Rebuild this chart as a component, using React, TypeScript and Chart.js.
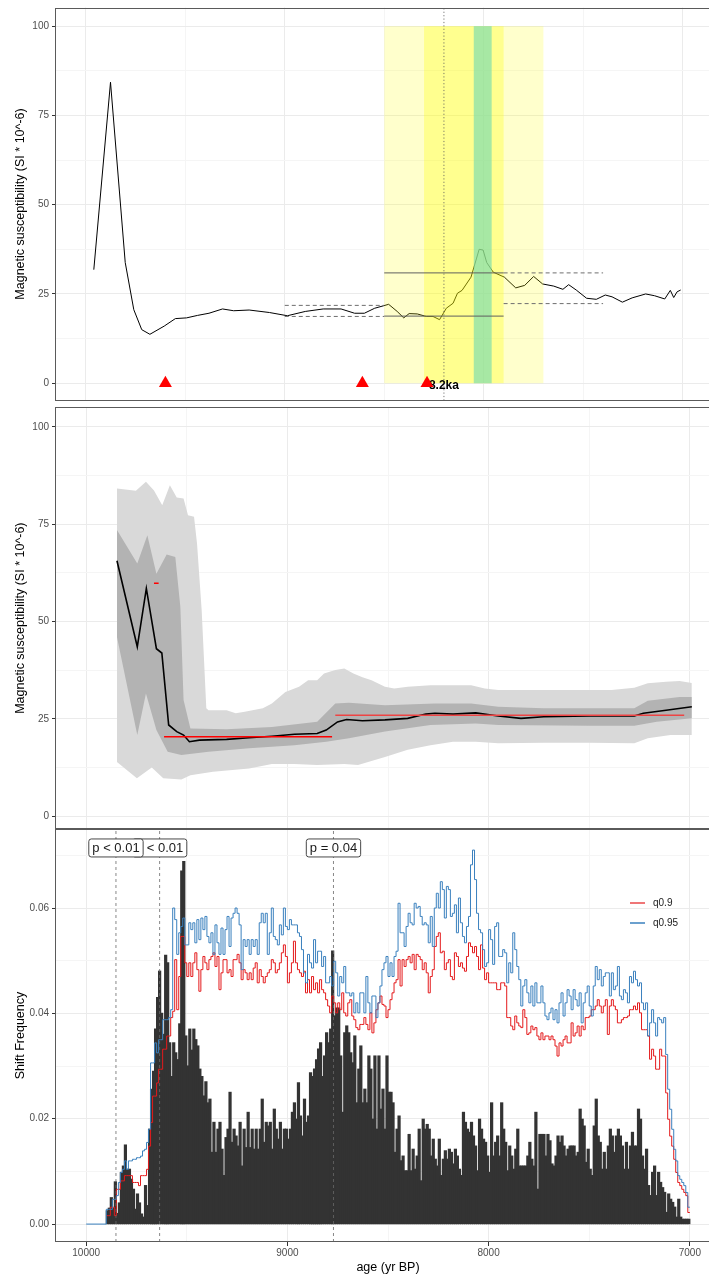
import React, { useEffect, useRef } from "react";
import { Chart, registerables } from "chart.js";

Chart.register(...registerables);

const FONT = "'Liberation Sans', Arial, Helvetica, sans-serif";

// ---------- shared age axis ----------
const AGE_MIN = 6850;
const AGE_MAX = 10150;
const AGE_TICKS = [10000, 9500, 9000, 8500, 8000, 7500, 7000];
const AGE_LABEL_TICKS = [10000, 9000, 8000, 7000];

// ---------- panel 1 : magnetic susceptibility record ----------
const MS_AGE = [9960, 9876, 9802, 9759, 9719, 9678, 9606, 9550, 9494, 9438, 9381, 9313, 9257, 9179, 9077, 8987, 8897, 8807, 8717, 8649, 8600, 8548, 8503, 8478, 8435, 8402, 8375, 8334, 8289, 8255, 8222, 8188, 8154, 8132, 8109, 8064, 8037, 8023, 8003, 7985, 7952, 7896, 7839, 7794, 7749, 7704, 7648, 7602, 7573, 7535, 7483, 7434, 7389, 7355, 7303, 7254, 7186, 7141, 7090, 7062, 7045, 7028, 7010];
const MS_VALUE = [31.8, 84.3, 33.8, 20.6, 15, 13.7, 16, 18.1, 18.3, 19, 19.6, 20.8, 20.3, 20.5, 19.8, 18.9, 20.1, 20.8, 20.8, 19.6, 19.6, 21, 21.7, 22.1, 20.1, 18.3, 19.5, 19.4, 18.7, 18.7, 17.8, 21, 22.4, 25.2, 26, 29.7, 34.8, 37.5, 37.3, 33.8, 31.1, 29.7, 26.7, 27.4, 29.9, 27.8, 27.2, 26.3, 27.6, 26.1, 23.8, 23.5, 24.7, 24.2, 22.7, 23.9, 25, 24.5, 23.6, 26, 24, 25.6, 26.1];
const Y1_TICKS = [0, 12.5, 25, 37.5, 50, 62.5, 75, 87.5, 100];
const Y1_LABEL_TICKS = [0, 25, 50, 75, 100];
const BAND_WIDE = [8500, 7700];
const BAND_CORE = [8300, 7900];
const BAND_PEAK = [8050, 7960];
const BAND_VALUE = [0, 100];
const EVENT_AGE = 8200;
const EVENT_LABEL = "8.2ka";
const TRIANGLE_AGE = [9600, 8610, 8285];
const TRIANGLE_VALUE = [0, 0, 0];
const MEAN_FROM = [9000, 9000, 8500, 8500, 7900, 7900];
const MEAN_TO = [8500, 8500, 7900, 7900, 7400, 7400];
const MEAN_VALUE = [21.8, 18.7, 30.9, 18.8, 30.9, 22.3];
const MEAN_KIND = ["before", "before", "event", "event", "after", "after"];

// ---------- panel 2 : modelled record ----------
const OUTER_UPPER = [[9847, 84.2], [9753, 83.6], [9703, 85.9], [9663, 83.7], [9622, 79.9], [9584, 85], [9550, 81.9], [9516, 81.6], [9494, 77.3], [9464, 76.9], [9449, 70], [9426, 52.9], [9403, 27.7], [9392, 27.2], [9302, 27.2], [9257, 26.4], [9212, 26.8], [9122, 27.7], [9077, 28.9], [9010, 31.9], [8942, 33.2], [8897, 34.9], [8852, 34.9], [8818, 36.6], [8762, 37.5], [8717, 37.9], [8672, 36.6], [8627, 35.7], [8582, 34.9], [8515, 33.2], [8469, 32.8], [8402, 33.2], [8289, 33.6], [8177, 33.6], [8087, 33.6], [8019, 32.8], [7952, 32.4], [7839, 32.4], [7726, 32.4], [7614, 32.4], [7501, 32.4], [7389, 32.4], [7276, 33], [7209, 34.1], [7118, 34.5], [7051, 34.7], [6990, 34.2]];
const OUTER_LOWER = [[9847, 13.9], [9748, 9.7], [9674, 12.5], [9617, 9.7], [9527, 9.4], [9482, 10.5], [9370, 11.4], [9190, 12.2], [9077, 13.4], [8965, 13.4], [8852, 13.1], [8717, 13.4], [8649, 13.1], [8515, 15.2], [8402, 17], [8289, 18.2], [8177, 19.1], [8064, 19.1], [7952, 18.7], [7726, 18.8], [7501, 18.8], [7276, 18.7], [7209, 20], [7096, 20.8], [6990, 20.8]];
const INNER_UPPER = [[9847, 73.5], [9746, 64.9], [9696, 72.2], [9651, 62.3], [9600, 67.2], [9557, 66.6], [9532, 53.7], [9516, 29.8], [9482, 22.5], [9302, 22.3], [9077, 22.9], [8852, 24.2], [8762, 28.9], [8694, 29.1], [8515, 28.5], [8267, 28.9], [8087, 28.9], [7952, 28.1], [7726, 27.7], [7276, 27.7], [7209, 29.6], [7051, 30.6], [6990, 30.6]];
const INNER_LOWER = [[9847, 46], [9746, 20.8], [9703, 31.5], [9651, 22.1], [9595, 16.5], [9527, 15.7], [9392, 16.5], [9190, 17.4], [8965, 18.2], [8807, 19.1], [8694, 20], [8515, 21.7], [8289, 23.4], [8064, 23.8], [7952, 23.4], [7501, 23.2], [7276, 23.2], [7164, 24.2], [6990, 25.1]];
const MEDIAN = [[9847, 65.6], [9746, 43.5], [9701, 58.5], [9651, 43], [9624, 41.9], [9590, 23.4], [9550, 21.7], [9516, 20.8], [9487, 19.1], [9437, 19.5], [9302, 19.7], [9190, 20.1], [9077, 20.5], [8965, 21], [8852, 21.2], [8807, 22.1], [8751, 24.2], [8706, 24.8], [8627, 24.5], [8515, 24.7], [8402, 25.1], [8312, 26.2], [8267, 26.4], [8177, 26.2], [8064, 26.5], [7952, 25.7], [7839, 25.1], [7726, 25.5], [7501, 25.7], [7276, 25.7], [7231, 26.4], [7118, 27.2], [6990, 28.1]];
const REGIME_FROM = [9613, 8762, 9663];
const REGIME_TO = [8778, 7028, 9640];
const REGIME_VALUE = [20.4, 25.9, 59.8];

// ---------- panel 3 : shift frequency ----------
const BIN_START = 9900;
const BIN_WIDTH = 10;
const SHIFT_FREQ = [
  0.0025, 0.003, 0.005, 0.003, 0.008, 0.002, 0.004, 0.0098, 0.011, 0.015,
  0.0104, 0.0104, 0.0085, 0.0066, 0.0028, 0.0057, 0.004, 0.0019, 0.0013, 0.0073,
  0.0035, 0.018, 0.0256, 0.029, 0.037, 0.043, 0.048, 0.040, 0.036, 0.051,
  0.0496, 0.0344, 0.028, 0.0344, 0.0325, 0.0312, 0.038, 0.067, 0.0688, 0.0357,
  0.030, 0.037, 0.033, 0.037, 0.035, 0.0338, 0.0294, 0.028, 0.0243, 0.027,
  0.023, 0.0237, 0.0136, 0.0193, 0.0136, 0.018, 0.0193, 0.0142, 0.0092, 0.0164,
  0.018, 0.025, 0.0155, 0.018, 0.0167, 0.0148, 0.0193, 0.011, 0.018, 0.0145,
  0.0212, 0.0145, 0.018, 0.0142, 0.018, 0.0142, 0.018, 0.0237, 0.0155, 0.0193,
  0.0186, 0.0193, 0.0142, 0.0218, 0.018, 0.0161, 0.0193, 0.0142, 0.018, 0.018,
  0.0161, 0.018, 0.0212, 0.023, 0.0199, 0.0268, 0.0205, 0.0167, 0.0237, 0.0193,
  0.0205, 0.0287, 0.028, 0.0294, 0.0312, 0.0332, 0.0344, 0.028, 0.0319, 0.0363,
  0.0344, 0.037, 0.0518, 0.0395, 0.041, 0.041, 0.0319, 0.0212, 0.0363, 0.0376,
  0.0363, 0.0325, 0.0306, 0.0357, 0.023, 0.0294, 0.0338, 0.023, 0.0256, 0.023,
  0.0319, 0.0294, 0.0199, 0.0319, 0.018, 0.0319, 0.0218, 0.0256, 0.018, 0.0319,
  0.025, 0.025, 0.023, 0.0136, 0.018, 0.0205,
  0.012, 0.0129, 0.0101, 0.0101, 0.017, 0.0101, 0.0142, 0.0104, 0.0129, 0.018,
  0.0082, 0.0199, 0.018, 0.0189, 0.018, 0.0129, 0.0161, 0.0123, 0.011, 0.0161,
  0.0092, 0.0123, 0.0139, 0.0123, 0.0142, 0.0136, 0.0114, 0.0142, 0.0129, 0.0104,
  0.0092, 0.0212, 0.0193, 0.018, 0.0174, 0.0193, 0.0167, 0.0148, 0.0101, 0.0199,
  0.018, 0.0161, 0.0155, 0.0129, 0.0098, 0.023, 0.0129, 0.0155, 0.0167, 0.0129,
  0.023, 0.018, 0.0155, 0.0101, 0.0148, 0.0129, 0.0104, 0.0142, 0.018, 0.011,
  0.011, 0.011, 0.011, 0.0129, 0.0155, 0.0123, 0.011, 0.0212, 0.0066, 0.017,
  0.017, 0.017, 0.0129, 0.017, 0.0158, 0.0114, 0.011, 0.0129, 0.0167, 0.0155,
  0.0167, 0.0148, 0.0129, 0.0142, 0.0148, 0.0148, 0.0148, 0.0129, 0.0136, 0.0218,
  0.0199, 0.0186, 0.0117, 0.0142, 0.0104, 0.0092, 0.0186, 0.0237, 0.0167, 0.0155,
  0.0104, 0.0136, 0.0104, 0.0148, 0.018, 0.0167, 0.0136, 0.0167, 0.018, 0.0167,
  0.0148, 0.0104, 0.0155, 0.0104, 0.0148, 0.0174, 0.0148, 0.0148, 0.0218, 0.0199,
  0.0129, 0.0104, 0.0142, 0.0073, 0.0054, 0.0098, 0.011, 0.0054, 0.0098, 0.0079,
  0.0069, 0.006, 0.0022, 0.0057, 0.0047, 0.0041, 0.0032, 0.0013, 0.0047, 0.0013,
  0.0009, 0.0009, 0.0009, 0.0009,
];
const Q90 = [
  0.0016, 0.0016, 0.0032, 0.0032, 0.0016, 0.0066, 0.0066, 0.0082, 0.0082, 0.0092,
  0.0092, 0.0092, 0.0092, 0.0079, 0.0079, 0.0079, 0.0073, 0.0092, 0.0092, 0.0092,
  0.0104, 0.0148, 0.0193, 0.0243, 0.0243, 0.0268, 0.0294, 0.0294, 0.0332, 0.0332,
  0.0357, 0.0357, 0.0392, 0.0404, 0.0502, 0.0407, 0.047, 0.0546, 0.0546, 0.0496,
  0.047, 0.0496, 0.047, 0.0496, 0.0515, 0.0483, 0.0442, 0.0483, 0.0508, 0.0496,
  0.0483, 0.0502, 0.0508, 0.0515, 0.0489, 0.0508, 0.0445, 0.0477, 0.0502, 0.0502,
  0.0477, 0.0483, 0.047, 0.0502, 0.0502, 0.0512, 0.0496, 0.0464, 0.0483, 0.0477,
  0.0464, 0.0477, 0.0464, 0.0486, 0.0496, 0.0458, 0.0483, 0.047, 0.0458, 0.047,
  0.0477, 0.0483, 0.0502, 0.0496, 0.0477, 0.0483, 0.0496, 0.0515, 0.053, 0.0508,
  0.0458, 0.0477, 0.0496, 0.0537, 0.0496, 0.0483, 0.0477, 0.047, 0.048, 0.0439,
  0.0464, 0.0439, 0.047, 0.0445, 0.0458, 0.0439, 0.0464, 0.0445, 0.0439, 0.0426,
  0.0414, 0.0401, 0.0433, 0.042, 0.0401, 0.042, 0.0407, 0.0439, 0.0401, 0.0395,
  0.042, 0.0426, 0.0395, 0.0388, 0.0373, 0.0369, 0.0379, 0.0379, 0.0392, 0.0379,
  0.0369, 0.0401, 0.0363, 0.0382, 0.0407, 0.042, 0.0433, 0.0417, 0.0414, 0.0392,
  0.0407, 0.0426, 0.0439, 0.0458, 0.0464, 0.0502,
  0.0452, 0.0502, 0.0489, 0.0502, 0.0508, 0.0496, 0.0512, 0.0483, 0.0512, 0.0508,
  0.0502, 0.0483, 0.0496, 0.0477, 0.0439, 0.047, 0.0483, 0.0527, 0.0546, 0.0553,
  0.0515, 0.0518, 0.0483, 0.0496, 0.0502, 0.047, 0.0464, 0.0515, 0.0508, 0.0489,
  0.0496, 0.0486, 0.048, 0.0508, 0.0534, 0.0527, 0.0515, 0.0527, 0.0508, 0.0483,
  0.053, 0.0486, 0.0464, 0.0477, 0.0458, 0.0458, 0.0458, 0.0458, 0.0445, 0.0445,
  0.0458, 0.0458, 0.0452, 0.0392, 0.0392, 0.0376, 0.0369, 0.0395, 0.0382, 0.0376,
  0.0373, 0.0407, 0.0392, 0.036, 0.0363, 0.0376, 0.0369, 0.0373, 0.0357, 0.035,
  0.0363, 0.035, 0.0357, 0.0357, 0.035, 0.0357, 0.035, 0.0338, 0.0319, 0.0344,
  0.0338, 0.035, 0.0357, 0.0344, 0.0344, 0.0382, 0.0357, 0.0363, 0.0376, 0.0357,
  0.0376, 0.0369, 0.0392, 0.0392, 0.0395, 0.0407, 0.0407, 0.0414, 0.0426, 0.0414,
  0.0401, 0.0414, 0.0426, 0.036, 0.0414, 0.0426, 0.0414, 0.0407, 0.0382, 0.0382,
  0.0388, 0.0392, 0.0392, 0.0395, 0.0407, 0.0407, 0.0414, 0.0407, 0.042, 0.0401,
  0.0369, 0.0369, 0.0369, 0.0357, 0.0313, 0.0332, 0.0319, 0.0294, 0.0294, 0.0332,
  0.0319, 0.0319, 0.0249, 0.0199, 0.0167, 0.0148, 0.0123, 0.0098, 0.0079, 0.0073,
  0.0066, 0.006, 0.0054, 0.0022,
];
const Q95_START = [10000, 0];
const Q95 = [
  0.0028, 0.0028, 0.0028, 0.0047, 0.0047, 0.0054, 0.0079, 0.0098, 0.0104, 0.012,
  0.0104, 0.012, 0.012, 0.0123, 0.0123, 0.0126, 0.0126, 0.0129, 0.0139, 0.0142,
  0.0155, 0.018, 0.0306, 0.0306, 0.0344, 0.0325, 0.035, 0.035, 0.0388, 0.0388,
  0.0388, 0.0392, 0.0407, 0.06, 0.0578, 0.0512, 0.0553, 0.0565, 0.0581, 0.053,
  0.053, 0.0572, 0.0559, 0.0572, 0.0534, 0.0578, 0.054, 0.0581, 0.0559, 0.0584,
  0.0546, 0.0534, 0.0553, 0.0512, 0.0568, 0.0534, 0.0512, 0.0562, 0.0512, 0.0559,
  0.0584, 0.0527, 0.0581, 0.059, 0.06, 0.059, 0.0568, 0.0483, 0.054, 0.0527,
  0.054, 0.0512, 0.054, 0.0527, 0.054, 0.0512, 0.0572, 0.059, 0.0572, 0.059,
  0.0512, 0.0553, 0.06, 0.0546, 0.054, 0.053, 0.0568, 0.0549, 0.06, 0.0565,
  0.0559, 0.0578, 0.0568, 0.0568, 0.0568, 0.0553, 0.0546, 0.0521, 0.0477, 0.0458,
  0.0512, 0.0496, 0.0486, 0.054, 0.0496, 0.0518, 0.0518, 0.0489, 0.0508, 0.0458,
  0.0458, 0.047, 0.0452, 0.0499, 0.0477, 0.0433, 0.047, 0.0458, 0.0489, 0.0439,
  0.0439, 0.0433, 0.0439, 0.0401, 0.042, 0.0401, 0.0439, 0.0439, 0.0401, 0.047,
  0.042, 0.0401, 0.0433, 0.0433, 0.0392, 0.042, 0.0452, 0.0483, 0.0496, 0.0508,
  0.047, 0.0496, 0.047, 0.0508, 0.0518, 0.0609,
  0.0553, 0.0553, 0.0527, 0.0565, 0.059, 0.0572, 0.0568, 0.0609, 0.06, 0.0603,
  0.0584, 0.0568, 0.0572, 0.0568, 0.0534, 0.0584, 0.0527, 0.06, 0.0628, 0.06,
  0.065, 0.0635, 0.0581, 0.0641, 0.0635, 0.0584, 0.059, 0.0606, 0.0553, 0.0619,
  0.0572, 0.0546, 0.0534, 0.0565, 0.0584, 0.0682, 0.071, 0.0654, 0.059, 0.0559,
  0.0553, 0.0521, 0.0489, 0.0496, 0.0559, 0.054, 0.0493, 0.0565, 0.0572, 0.0508,
  0.0508, 0.0521, 0.0515, 0.0458, 0.0496, 0.0477, 0.0553, 0.0521, 0.0489, 0.0464,
  0.0414, 0.0452, 0.0464, 0.0439, 0.042, 0.0452, 0.0414, 0.0458, 0.042, 0.042,
  0.0452, 0.042, 0.0395, 0.0388, 0.0401, 0.041, 0.0388, 0.0407, 0.0382, 0.042,
  0.0439, 0.0395, 0.042, 0.0445, 0.0433, 0.0407, 0.0445, 0.0426, 0.0414, 0.0439,
  0.0382, 0.042, 0.0439, 0.0452, 0.0414, 0.0395, 0.0452, 0.0489, 0.0464, 0.0483,
  0.0452, 0.047, 0.0477, 0.0477, 0.0433, 0.0477, 0.0445, 0.0452, 0.0489, 0.0433,
  0.0426, 0.0445, 0.0439, 0.042, 0.047, 0.0458, 0.048, 0.0464, 0.0452, 0.0458,
  0.042, 0.0407, 0.042, 0.0357, 0.0382, 0.0407, 0.0382, 0.0357, 0.0392, 0.0388,
  0.0382, 0.0392, 0.0322, 0.0256, 0.0218, 0.018, 0.0142, 0.012, 0.0092, 0.0085,
  0.0079, 0.0073, 0.006, 0.0032,
];
const CHANGE_AGE = [9852, 9635, 8771];
const CHANGE_LABEL = ["p < 0.01", "p < 0.01", "p = 0.04"];
const CHANGE_LABEL_VALUE = 0.0714;
const Y3_TICKS = [0, 0.01, 0.02, 0.03, 0.04, 0.05, 0.06, 0.07];
const Y3_LABEL_TICKS = [0, 0.02, 0.04, 0.06];
const LEGEND_LABELS = ["q0.9", "q0.95"];

const Y_TITLE = "Magnetic susceptibility (SI * 10^-6)";

// ---------- helpers ----------
const isIn = (list: number[], v: number) => list.some((t) => Math.abs(t - v) < 1e-9);

function xAxis(withLabels: boolean): any {
  const major = (v: number) => isIn(AGE_LABEL_TICKS, v);
  return {
    type: "linear",
    reverse: true,
    min: AGE_MIN,
    max: AGE_MAX,
    bounds: "data",
    offset: false,
    afterBuildTicks: (s: any) => {
      s.ticks = AGE_TICKS.map((v) => ({ value: v }));
    },
    afterFit: (s: any) => {
      s.height = withLabels ? 35 : 0;
      s.paddingLeft = 0;
      s.paddingRight = 0;
    },
    grid: {
      offset: false,
      color: (c: any) => (c.tick && major(c.tick.value) ? "#EBEBEB" : "#F5F5F5"),
      lineWidth: 1,
      drawTicks: withLabels,
      tickLength: 4,
      tickColor: (c: any) => (c.tick && major(c.tick.value) ? "#333333" : "rgba(0,0,0,0)"),
    },
    border: { display: false },
    ticks: {
      display: withLabels,
      autoSkip: false,
      maxRotation: 0,
      padding: 1,
      color: "#4D4D4D",
      font: { family: FONT, size: 10 },
      callback: (v: any) => (major(Number(v)) ? String(v) : ""),
    },
    title: withLabels
      ? {
          display: true,
          text: "age (yr BP)",
          color: "#000000",
          font: { family: FONT, size: 12.5 },
          padding: { top: 0, bottom: 1.5 },
        }
      : { display: false },
  };
}

function yAxis(min: number, max: number, ticks: number[], labelTicks: number[], fmt: (v: number) => string, title: string): any {
  const major = (v: number) => isIn(labelTicks, v);
  return {
    type: "linear",
    min,
    max,
    bounds: "data",
    afterBuildTicks: (s: any) => {
      s.ticks = ticks.map((v) => ({ value: v }));
    },
    afterFit: (s: any) => {
      s.width = 56;
      s.paddingTop = 0;
      s.paddingBottom = 0;
    },
    grid: {
      color: (c: any) => (c.tick && major(c.tick.value) ? "#EBEBEB" : "#F5F5F5"),
      lineWidth: 1,
      drawTicks: true,
      tickLength: 4,
      tickColor: (c: any) => (c.tick && major(c.tick.value) ? "#333333" : "rgba(0,0,0,0)"),
    },
    border: { display: false },
    ticks: {
      autoSkip: false,
      padding: 3,
      color: "#4D4D4D",
      font: { family: FONT, size: 10 },
      callback: (v: any) => (major(Number(v)) ? fmt(Number(v)) : ""),
    },
    title: {
      display: true,
      text: title,
      color: "#000000",
      font: { family: FONT, size: 12.5 },
      padding: { top: 13.5, bottom: 0 },
    },
  };
}

const framePlugin = {
  id: "frame",
  afterDraw(chart: any) {
    const { ctx, chartArea: a } = chart;
    ctx.save();
    ctx.strokeStyle = "#5A5A5A";
    ctx.lineWidth = 1;
    const x0 = Math.round(a.left) - 0.5;
    const y0 = Math.round(a.top) + 0.5;
    const x1 = Math.round(a.right) - 0.5;
    const y1 = Math.round(a.bottom) - 0.5;
    ctx.strokeRect(x0, y0, x1 - x0, y1 - y0);
    ctx.restore();
  },
};

const baseOptions = (padding: any) => ({
  responsive: false,
  maintainAspectRatio: false,
  animation: false,
  devicePixelRatio: 1,
  events: [],
  layout: { padding },
  plugins: { legend: { display: false }, tooltip: { enabled: false } },
});

const lineStyle = { pointRadius: 0, tension: 0, fill: false };

function panel1Config(): any {
  const meanStyles: any = {
    before: { borderColor: "#6E6E6E", borderDash: [4, 3], borderWidth: 1 },
    event: { borderColor: "#5E5E5E", borderDash: [], borderWidth: 1 },
    after: { borderColor: "#6E6E6E", borderDash: [4, 3], borderWidth: 1 },
  };
  const datasets: any[] = [
    {
      data: MS_AGE.map((a, i) => ({ x: a, y: MS_VALUE[i] })),
      borderColor: "#000000",
      borderWidth: 1,
      order: 10,
      ...lineStyle,
    },
  ];
  MEAN_FROM.forEach((f, i) => {
    datasets.push({
      data: [
        { x: f, y: MEAN_VALUE[i] },
        { x: MEAN_TO[i], y: MEAN_VALUE[i] },
      ],
      ...meanStyles[MEAN_KIND[i]],
      order: 5,
      ...lineStyle,
    });
  });
  datasets.push({
    data: [
      { x: EVENT_AGE, y: -4.84 },
      { x: EVENT_AGE, y: 105.23 },
    ],
    borderColor: "#555555",
    borderWidth: 0.8,
    borderDash: [1.2, 2.2],
    order: 5,
    ...lineStyle,
  });
  datasets.push({
    data: TRIANGLE_AGE.map((a, i) => ({ x: a, y: TRIANGLE_VALUE[i] })),
    showLine: false,
    pointStyle: "triangle",
    pointRadius: 7.5,
    pointBackgroundColor: "#FF0000",
    pointBorderWidth: 0,
    pointBorderColor: "#FF0000",
    order: 1,
  });

  const bandPlugin = {
    id: "bands",
    afterDatasetDraw(chart: any, args: any) {
      if (args.index !== 0) return;
      const { ctx, chartArea: a, scales } = chart;
      const x = scales.x;
      const y = scales.y;
      ctx.save();
      ctx.beginPath();
      ctx.rect(a.left, a.top, a.right - a.left, a.bottom - a.top);
      ctx.clip();
      const band = (r: number[], color: string) => {
        const xa = x.getPixelForValue(r[0]);
        const xb = x.getPixelForValue(r[1]);
        const ya = y.getPixelForValue(BAND_VALUE[1]);
        const yb = y.getPixelForValue(BAND_VALUE[0]);
        ctx.fillStyle = color;
        ctx.fillRect(Math.min(xa, xb), ya, Math.abs(xb - xa), yb - ya);
      };
      band(BAND_WIDE, "rgba(255,255,0,0.2)");
      band(BAND_CORE, "rgba(255,255,0,0.3)");
      band(BAND_PEAK, "rgba(120,220,175,0.65)");
      ctx.font = `bold 12px ${FONT}`;
      ctx.fillStyle = "#000000";
      ctx.textAlign = "center";
      ctx.textBaseline = "middle";
      ctx.fillText(EVENT_LABEL, x.getPixelForValue(EVENT_AGE), y.getPixelForValue(0) + 2);
      ctx.restore();
    },
  };

  return {
    type: "line",
    data: { datasets },
    options: {
      ...baseOptions({ top: 7.3, bottom: 0.7, left: 0, right: 0 }),
      scales: {
        x: xAxis(false),
        y: yAxis(-4.84, 105.23, Y1_TICKS, Y1_LABEL_TICKS, (v) => String(v), Y_TITLE),
      },
    },
    plugins: [bandPlugin, framePlugin],
  };
}

function panel2Config(): any {
  const pts = (arr: number[][]) => arr.map((p) => ({ x: p[0], y: p[1] }));
  const datasets: any[] = [
    { data: pts(OUTER_UPPER), fill: "+1", backgroundColor: "#D9D9D9", borderWidth: 0, borderColor: "rgba(0,0,0,0)", pointRadius: 0, tension: 0, order: 10 },
    { data: pts(OUTER_LOWER), fill: false, borderWidth: 0, borderColor: "rgba(0,0,0,0)", pointRadius: 0, tension: 0, order: 9 },
    { data: pts(INNER_UPPER), fill: "+1", backgroundColor: "#B3B3B3", borderWidth: 0, borderColor: "rgba(0,0,0,0)", pointRadius: 0, tension: 0, order: 8 },
    { data: pts(INNER_LOWER), fill: false, borderWidth: 0, borderColor: "rgba(0,0,0,0)", pointRadius: 0, tension: 0, order: 7 },
    { data: pts(MEDIAN), borderColor: "#000000", borderWidth: 1.6, order: 5, ...lineStyle },
  ];
  REGIME_FROM.forEach((f, i) => {
    datasets.push({
      data: [
        { x: f, y: REGIME_VALUE[i] },
        { x: REGIME_TO[i], y: REGIME_VALUE[i] },
      ],
      borderColor: i === 1 ? "#EE4444" : "#FF0000",
      borderWidth: 1.5,
      order: 1,
      ...lineStyle,
    });
  });
  return {
    type: "line",
    data: { datasets },
    options: {
      ...baseOptions({ top: 0.3, bottom: 0, left: 0, right: 0 }),
      scales: {
        x: xAxis(false),
        y: yAxis(-3.34, 105.06, Y1_TICKS, Y1_LABEL_TICKS, (v) => String(v), Y_TITLE),
      },
    },
    plugins: [framePlugin],
  };
}

function panel3Config(): any {
  const stepPts = (vals: number[], lead?: number[]) => {
    const p = vals.map((v, i) => ({ x: BIN_START - BIN_WIDTH * i, y: v }));
    p.push({ x: BIN_START - BIN_WIDTH * vals.length, y: vals[vals.length - 1] });
    return lead ? [{ x: lead[0], y: lead[1] }, ...p] : p;
  };
  const datasets: any[] = [
    {
      type: "bar",
      data: SHIFT_FREQ.map((v, i) => ({ x: BIN_START - BIN_WIDTH * (i + 0.5), y: v })),
      backgroundColor: "#333333",
      borderWidth: 0,
      barPercentage: 1,
      categoryPercentage: 1,
      inflateAmount: 0.6,
      order: 10,
    },
    { type: "line", data: stepPts(Q90), stepped: true, borderColor: "#E41A1C", borderWidth: 1, order: 5, ...lineStyle },
    { type: "line", data: stepPts(Q95, Q95_START), stepped: true, borderColor: "#3A80BE", borderWidth: 1, order: 4, ...lineStyle },
  ];
  CHANGE_AGE.forEach((a) => {
    datasets.push({
      type: "line",
      data: [
        { x: a, y: -0.0034 },
        { x: a, y: 0.075 },
      ],
      borderColor: "#6A6A6A",
      borderWidth: 0.8,
      borderDash: [3, 3],
      order: 2,
      ...lineStyle,
    });
  });

  const labelPlugin = {
    id: "labels",
    afterDatasetsDraw(chart: any) {
      const { ctx, scales, chartArea: a } = chart;
      const x = scales.x;
      const y = scales.y;
      ctx.save();
      ctx.font = `13px ${FONT}`;
      ctx.textAlign = "center";
      ctx.textBaseline = "middle";
      const drawLabel = (i: number) => {
        const text = CHANGE_LABEL[i];
        const cx = x.getPixelForValue(CHANGE_AGE[i]);
        const cy = y.getPixelForValue(CHANGE_LABEL_VALUE);
        const w = ctx.measureText(text).width + 7;
        const h = 18;
        const l = cx - w / 2;
        const t = cy - h / 2;
        ctx.beginPath();
        if (ctx.roundRect) ctx.roundRect(l, t, w, h, 2.5);
        else ctx.rect(l, t, w, h);
        ctx.fillStyle = "#FFFFFF";
        ctx.fill();
        ctx.strokeStyle = "#333333";
        ctx.lineWidth = 0.9;
        ctx.stroke();
        ctx.fillStyle = "#1A1A1A";
        ctx.fillText(text, cx, cy + 0.5);
      };
      drawLabel(1);
      drawLabel(0);
      drawLabel(2);

      // legend
      const ly = [a.top + 74, a.top + 94];
      const colors = ["#E41A1C", "rgba(58,128,190,0.75)"];
      const widths = [1.2, 2];
      ctx.textAlign = "left";
      ctx.font = `10px ${FONT}`;
      LEGEND_LABELS.forEach((lab, i) => {
        ctx.beginPath();
        ctx.strokeStyle = colors[i];
        ctx.lineWidth = widths[i];
        ctx.moveTo(630, ly[i]);
        ctx.lineTo(645, ly[i]);
        ctx.stroke();
        ctx.fillStyle = "#1A1A1A";
        ctx.fillText(lab, 653, ly[i]);
      });
      ctx.restore();
    },
  };

  return {
    type: "bar",
    data: { datasets },
    options: {
      ...baseOptions({ top: 0, bottom: 0, left: 0, right: 0 }),
      scales: {
        x: xAxis(true),
        y: yAxis(-0.0034, 0.075, Y3_TICKS, Y3_LABEL_TICKS, (v) => v.toFixed(2), "Shift Frequency"),
      },
    },
    plugins: [labelPlugin, framePlugin],
  };
}

export default function App() {
  const r1 = useRef<HTMLCanvasElement>(null);
  const r2 = useRef<HTMLCanvasElement>(null);
  const r3 = useRef<HTMLCanvasElement>(null);

  useEffect(() => {
    const c1 = new Chart(r1.current as HTMLCanvasElement, panel1Config());
    const c2 = new Chart(r2.current as HTMLCanvasElement, panel2Config());
    const c3 = new Chart(r3.current as HTMLCanvasElement, panel3Config());
    return () => {
      c1.destroy();
      c2.destroy();
      c3.destroy();
    };
  }, []);

  const cv = (top: number, h: number): React.CSSProperties => ({
    position: "absolute",
    left: 0,
    top,
    width: 720,
    height: h,
  });

  return (
    <div
      style={{
        position: "absolute",
        left: 0,
        top: 0,
        width: 709,
        height: 1277,
        overflow: "hidden",
        background: "#FFFFFF",
      }}
    >
      <canvas ref={r1} width={720} height={408} style={cv(0, 408)} />
      <canvas ref={r2} width={720} height={422} style={cv(407, 422)} />
      <canvas ref={r3} width={720} height={448} style={cv(829, 448)} />
    </div>
  );
}
